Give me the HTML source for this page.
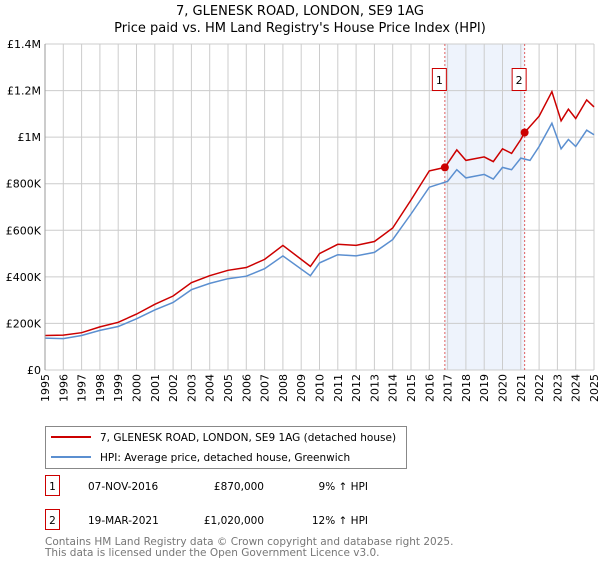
<!DOCTYPE html>
<html><head><meta charset="utf-8"><style>
body{margin:0;background:#fff;font-family:"DejaVu Sans","Liberation Sans",sans-serif;}
svg text{font-family:"DejaVu Sans","Liberation Sans",sans-serif;}
</style></head><body>
<svg id="chart" width="600" height="560" xmlns="http://www.w3.org/2000/svg">
<text x="300" y="15" text-anchor="middle" font-size="13">7, GLENESK ROAD, LONDON, SE9 1AG</text>
<text x="300" y="32" text-anchor="middle" font-size="13">Price paid vs. HM Land Registry's House Price Index (HPI)</text>
<g id="grid"></g><g id="marks"></g><g id="axes"></g>
<g>
<rect x="45.5" y="426.5" width="361" height="42" fill="#fff" stroke="#888"/>
<line x1="51" y1="437" x2="91" y2="437" stroke="#cc0000" stroke-width="2"/>
<text x="100" y="441" font-size="10.5">7, GLENESK ROAD, LONDON, SE9 1AG (detached house)</text>
<line x1="51" y1="457" x2="91" y2="457" stroke="#5b8fd0" stroke-width="2"/>
<text x="100" y="461" font-size="10.5">HPI: Average price, detached house, Greenwich</text>
</g>
<g font-size="10.5">
<rect x="45.5" y="475.5" width="14" height="20" fill="#fff" stroke="#cc0000"/>
<text x="52.5" y="490" text-anchor="middle">1</text>
<text x="88" y="490">07-NOV-2016</text>
<text x="264" y="490" text-anchor="end">£870,000</text>
<text x="368" y="490" text-anchor="end">9% ↑ HPI</text>
<rect x="45.5" y="509.5" width="14" height="20" fill="#fff" stroke="#cc0000"/>
<text x="52.5" y="524" text-anchor="middle">2</text>
<text x="88" y="524">19-MAR-2021</text>
<text x="264" y="524" text-anchor="end">£1,020,000</text>
<text x="368" y="524" text-anchor="end">12% ↑ HPI</text>
</g>
<text x="45" y="545" font-size="10.5" fill="#777">Contains HM Land Registry data © Crown copyright and database right 2025.</text>
<text x="45" y="556" font-size="10.5" fill="#777">This data is licensed under the Open Government Licence v3.0.</text>
</svg>
<script>
const yTicks=[0,200000,400000,600000,800000,1000000,1200000,1400000];
const yLabels=["£0","£200K","£400K","£600K","£800K","£1M","£1.2M","£1.4M"];
const xYears=[1995,1996,1997,1998,1999,2000,2001,2002,2003,2004,2005,2006,2007,2008,2009,2010,2011,2012,2013,2014,2015,2016,2017,2018,2019,2020,2021,2022,2023,2024,2025];
const hpiT=[1995,1996,1997,1998,1999,2000,2001,2002,2003,2004,2005,2006,2007,2008,2009.5,2010,2011,2012,2013,2014,2015,2016,2017,2017.5,2018,2019,2019.5,2020,2020.5,2021,2021.5,2022,2022.7,2023.2,2023.6,2024,2024.6,2025];
const hpiV=[137,135,148,170,187,220,258,290,345,372,392,403,435,490,405,460,495,490,505,560,670,785,810,860,825,840,820,870,860,910,900,960,1060,950,990,960,1030,1010];
const propT=[1995,1996,1997,1998,1999,2000,2001,2002,2003,2004,2005,2006,2007,2008,2009.5,2010,2011,2012,2013,2014,2015,2016,2016.85,2017.5,2018,2019,2019.5,2020,2020.5,2021,2021.21,2022,2022.7,2023.2,2023.6,2024,2024.6,2025];
const propV=[148,150,160,185,205,240,282,318,375,405,428,440,475,535,445,500,540,535,552,610,730,855,870,945,900,915,895,950,930,990,1020,1090,1195,1070,1120,1080,1160,1130];
const saleT=[2016.85,2021.21];
const saleV=[870000,1020000];
const saleLabels=["1","2"];
const L=45,R=594,T=44,B=370;
const X=t=>L+(t-1995)/30*(R-L);
const Y=v=>B-v/1400000*(B-T);
const NS="http://www.w3.org/2000/svg";
function mk(tag,attrs,parent){const e=document.createElementNS(NS,tag);for(const k in attrs)e.setAttribute(k,attrs[k]);parent.appendChild(e);return e;}
const grid=document.getElementById('grid'),marks=document.getElementById('marks'),axes=document.getElementById('axes');
let e=mk('rect',{x:X(saleT[0]),y:T,width:X(saleT[1])-X(saleT[0]),height:B-T,fill:'#eef3fc'},grid);


xYears.forEach(y=>{const l=mk('line',{x1:X(y),x2:X(y),y1:T,y2:B,stroke:'#ccc'},grid);


const t=mk('text',{x:0,y:0,'font-size':11,'text-anchor':'end',transform:`translate(${X(y)+4},${B+4}) rotate(-90)`},axes);t.textContent=y;

});
yTicks.forEach((v,i)=>{const l=mk('line',{x1:L,x2:R,y1:Y(v),y2:Y(v),stroke:'#ccc'},grid);


const t=mk('text',{x:L-4,y:Y(v)+4,'font-size':11,'text-anchor':'end'},axes);t.textContent=yLabels[i];

});
e=mk('line',{x1:L,x2:L,y1:T,y2:B,stroke:'#999'},axes);


saleT.forEach((t,i)=>{const l=mk('line',{x1:X(t),x2:X(t),y1:T,y2:B,stroke:'#e06060','stroke-dasharray':'2,2'},marks);

});
const pts=(ts,vs)=>ts.map((t,i)=>X(t).toFixed(1)+','+Y(vs[i]*1000).toFixed(1)).join(' ');
e=mk('polyline',{points:pts(hpiT,hpiV),fill:'none',stroke:'#5b8fd0','stroke-width':1.5},marks);


e=mk('polyline',{points:pts(propT,propV),fill:'none',stroke:'#cc0000','stroke-width':1.5},marks);


saleT.forEach((t,i)=>{const c=mk('circle',{cx:X(t),cy:Y(saleV[i]),r:4,fill:'#cc0000'},marks);


const r=mk('rect',{x:X(t)-12.5,y:68.5,width:14,height:22,fill:'#fff',stroke:'#cc0000'},marks);


const tx=mk('text',{x:X(t)-5.5,y:84,'font-size':11,'text-anchor':'middle'},marks);tx.textContent=saleLabels[i];

});
</script>
</body></html>
